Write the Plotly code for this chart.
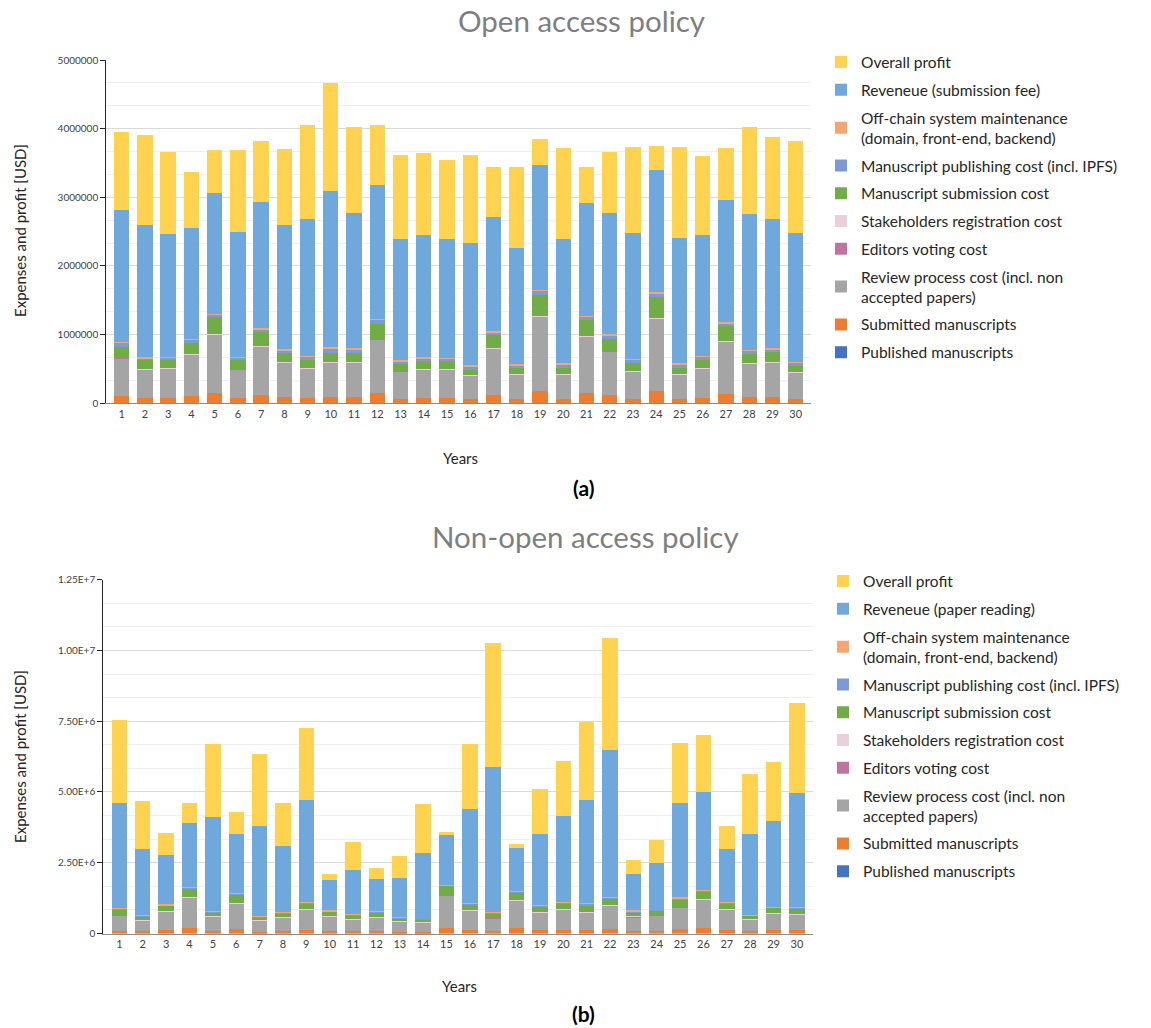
import plotly.graph_objects as go

# ---------------- data ----------------
years = [1, 2, 3, 4, 5, 6, 7, 8, 9, 10, 11, 12, 13, 14, 15,
         16, 17, 18, 19, 20, 21, 22, 23, 24, 25, 26, 27, 28, 29, 30]

series_names_a = [
    "Published manuscripts",
    "Submitted manuscripts",
    "Review process cost (incl. non<br>accepted papers)",
    "Editors voting cost",
    "Stakeholders registration cost",
    "Manuscript submission cost",
    "Manuscript publishing cost (incl. IPFS)",
    "Off-chain system maintenance<br>(domain, front-end, backend)",
    "Reveneue (submission fee)",
    "Overall profit",
]
series_names_b = [
    "Published manuscripts",
    "Submitted manuscripts",
    "Review process cost (incl. non<br>accepted papers)",
    "Editors voting cost",
    "Stakeholders registration cost",
    "Manuscript submission cost",
    "Manuscript publishing cost (incl. IPFS)",
    "Off-chain system maintenance<br>(domain, front-end, backend)",
    "Reveneue (paper reading)",
    "Overall profit",
]

# (a) Open access policy, USD
oa_published = [4000, 3000, 3000, 4000, 5000, 3000, 4000, 3000, 3000, 3000,
                3000, 5000, 2000, 3000, 3000, 2000, 4000, 2000, 6000, 2000,
                5000, 4000, 2000, 6000, 2000, 3000, 5000, 3000, 3000, 2000]
oa_submitted = [103000, 80000, 80000, 103000, 141000, 80000, 113000, 89000, 80000, 89000,
                89000, 141000, 66000, 80000, 80000, 56000, 113000, 66000, 178000, 66000,
                141000, 113000, 66000, 178000, 66000, 80000, 131000, 89000, 89000, 66000]
oa_review = [548000, 407000, 422000, 597000, 849000, 412000, 703000, 495000, 422000, 495000,
             495000, 786000, 388000, 407000, 407000, 345000, 679000, 345000, 1073000, 345000,
             820000, 640000, 398000, 1049000, 345000, 422000, 757000, 481000, 495000, 374000]
oa_editors = [6000, 5000, 5000, 6000, 7000, 5000, 6000, 5000, 5000, 5000,
              5000, 7000, 4000, 5000, 5000, 4000, 6000, 4000, 8000, 4000,
              7000, 6000, 4000, 8000, 4000, 5000, 6000, 5000, 5000, 4000]
oa_stakeholders = [4000, 3000, 3000, 4000, 4000, 3000, 4000, 3000, 3000, 3000,
                   3000, 4000, 3000, 3000, 3000, 3000, 4000, 3000, 5000, 3000,
                   4000, 4000, 3000, 5000, 3000, 3000, 4000, 3000, 3000, 3000]
oa_submission = [155000, 131000, 116000, 165000, 247000, 126000, 209000, 131000, 116000, 131000,
                 131000, 213000, 107000, 117000, 117000, 82000, 189000, 96000, 311000, 96000,
                 242000, 175000, 111000, 306000, 96000, 116000, 228000, 135000, 151000, 92000]
oa_publishing = [63000, 30000, 35000, 45000, 34000, 40000, 39000, 49000, 49000, 72000,
                 58000, 59000, 44000, 38000, 38000, 49000, 39000, 39000, 58000, 54000,
                 39000, 48000, 54000, 53000, 54000, 49000, 34000, 49000, 38000, 48000]
oa_offchain = [15000, 12000, 12000, 12000, 20000, 12000, 19000, 9000, 14000, 16000,
               19000, 14000, 14000, 15000, 12000, 10000, 15000, 15000, 14000, 10000,
               15000, 15000, 14000, 15000, 14000, 14000, 19000, 15000, 15000, 10000]
oa_revenue = [1912000, 1924000, 1788000, 1622000, 1752000, 1812000, 1835000, 1811000, 1986000, 2271000,
              1966000, 1952000, 1767000, 1777000, 1731000, 1781000, 1669000, 1699000, 1821000, 1815000,
              1645000, 1767000, 1826000, 1776000, 1826000, 1757000, 1782000, 1975000, 1888000, 1887000]
oa_profit = [1137000, 1320000, 1189000, 806000, 626000, 1189000, 884000, 1102000, 1369000, 1573000,
             1262000, 869000, 1228000, 1194000, 1141000, 1291000, 724000, 1170000, 374000, 1320000,
             525000, 883000, 1252000, 355000, 1320000, 1151000, 752000, 1267000, 1190000, 1335000]

# (b) Non-open access policy, USD
noa_published = [3000, 3000, 4000, 6000, 3000, 5000, 2000, 3000, 4000, 3000,
                 3000, 3000, 2000, 2000, 7000, 4000, 3000, 6000, 4000, 4000,
                 4000, 5000, 3000, 3000, 5000, 6000, 4000, 3000, 4000, 4000]
noa_submitted = [79000, 79000, 114000, 182000, 79000, 148000, 45000, 79000, 114000, 79000,
                 79000, 79000, 57000, 57000, 205000, 114000, 79000, 182000, 114000, 114000,
                 114000, 148000, 79000, 79000, 148000, 182000, 114000, 79000, 114000, 114000]
noa_review = [579000, 379000, 661000, 1086000, 520000, 921000, 414000, 497000, 732000, 532000,
              414000, 485000, 367000, 343000, 1156000, 696000, 473000, 980000, 638000, 732000,
              638000, 850000, 509000, 579000, 791000, 1015000, 732000, 414000, 590000, 555000]
noa_editors = [6000, 6000, 6000, 6000, 6000, 6000, 6000, 6000, 6000, 6000,
               6000, 6000, 6000, 6000, 6000, 6000, 6000, 6000, 6000, 6000,
               6000, 6000, 6000, 6000, 6000, 6000, 6000, 6000, 6000, 6000]
noa_stakeholders = [4000, 4000, 4000, 4000, 4000, 4000, 4000, 4000, 4000, 4000,
                    4000, 4000, 4000, 4000, 4000, 4000, 4000, 4000, 4000, 4000,
                    4000, 4000, 4000, 4000, 4000, 4000, 4000, 4000, 4000, 4000]
noa_submission = [177000, 141000, 200000, 330000, 130000, 294000, 118000, 141000, 212000, 153000,
                  142000, 165000, 118000, 94000, 318000, 224000, 153000, 294000, 200000, 212000,
                  212000, 224000, 165000, 153000, 247000, 283000, 212000, 130000, 201000, 212000]
noa_publishing = [49000, 28000, 28000, 27000, 39000, 45000, 27000, 28000, 37000, 28000,
                  27000, 35000, 27000, 20000, 27000, 28000, 40000, 18000, 27000, 27000,
                  82000, 37000, 35000, 18000, 59000, 27000, 27000, 27000, 27000, 28000]
noa_offchain = [10000, 8000, 8000, 8000, 8000, 14000, 8000, 8000, 10000, 8000,
                8000, 12000, 8000, 4000, 8000, 8000, 8000, 6000, 8000, 8000,
                24000, 10000, 23000, 6000, 24000, 8000, 8000, 8000, 8000, 8000]
noa_revenue = [3710000, 2332000, 1765000, 2238000, 3310000, 2061000, 3157000, 2320000, 3604000, 1072000,
               1555000, 1131000, 1366000, 2309000, 1732000, 3309000, 5100000, 1519000, 2521000, 3027000,
               3639000, 5194000, 1261000, 1649000, 3310000, 3475000, 1873000, 2827000, 3027000, 4039000]
noa_profit = [2921000, 1696000, 755000, 730000, 2603000, 801000, 2568000, 1531000, 2533000, 212000,
              978000, 412000, 789000, 1743000, 118000, 2309000, 4405000, 142000, 1566000, 1944000,
              2756000, 3946000, 495000, 801000, 2143000, 2014000, 801000, 2144000, 2073000, 3181000]

y_ticks_a = [0, 1000000, 2000000, 3000000, 4000000, 5000000]
y_ticklabels_a = ["0", "1000000", "2000000", "3000000", "4000000", "5000000"]
y_ticks_b = [0, 2500000, 5000000, 7500000, 10000000, 12500000]
y_ticklabels_b = ["0", "2.50E+6", "5.00E+6", "7.50E+6", "1.00E+7", "1.25E+7"]

# ---------------- styling ----------------
colors = ["#4472C4", "#ED7D31", "#A5A5A5", "#C0739F", "#EBD0DC",
          "#70AD47", "#7C9BD6", "#F4A672", "#6FA8DC", "#FFD34F"]

W, H = 1151, 1028
FONT = "Lato"


def fx(px):
    return px / W


def fy(py):
    return 1 - py / H


fig = go.Figure()

stack_a = [oa_published, oa_submitted, oa_review, oa_editors, oa_stakeholders,
           oa_submission, oa_publishing, oa_offchain, oa_revenue, oa_profit]
stack_b = [noa_published, noa_submitted, noa_review, noa_editors, noa_stakeholders,
           noa_submission, noa_publishing, noa_offchain, noa_revenue, noa_profit]

n_series = len(stack_a)
for i, (name, vals) in enumerate(zip(series_names_a, stack_a)):
    fig.add_trace(go.Bar(
        x=years, y=vals, name=name, marker=dict(color=colors[i], line=dict(width=0)),
        width=0.66, xaxis="x", yaxis="y", legend="legend", legendgroup=f"a{i}",
        legendrank=n_series - i,
    ))

for i, (name, vals) in enumerate(zip(series_names_b, stack_b)):
    fig.add_trace(go.Bar(
        x=years, y=vals, name=name, marker=dict(color=colors[i], line=dict(width=0)),
        width=0.66, xaxis="x2", yaxis="y2", legend="legend2", legendgroup=f"b{i}",
        legendrank=n_series - i,
    ))

tick_font = dict(family=FONT, size=10, color="#404040")
xtick_font = dict(family=FONT, size=11, color="#404040")

common_x = dict(
    tickmode="array", tickvals=years, ticktext=[str(v) for v in years],
    showgrid=False, zeroline=False, showline=True, linecolor="#8C8C8C", linewidth=1.2,
    ticks="", tickfont=xtick_font, fixedrange=True, automargin=False,
)
common_y = dict(
    showline=True, linecolor="#262626", linewidth=1.2, ticks="outside", ticklen=5,
    tickcolor="#262626", tickfont=tick_font, zeroline=False, automargin=False,
    showgrid=True, gridcolor="#D9D9D9", gridwidth=1,
)

legend_common = dict(
    font=dict(family=FONT, size=15.5, color="#262626"),
    traceorder="grouped", tracegroupgap=4.6, itemwidth=30,
    xanchor="left", yanchor="top", bgcolor="rgba(0,0,0,0)",
)

fig.update_layout(
    width=W, height=H, margin=dict(l=0, r=0, t=0, b=0, autoexpand=False),
    paper_bgcolor="white", plot_bgcolor="white",
    barmode="stack", bargap=0.34,
    font=dict(family=FONT, color="#404040"),
    xaxis=dict(domain=[fx(106.3), fx(811)], range=[0.34, 30.66], anchor="y", **common_x),
    yaxis=dict(domain=[fy(403.3), fy(60)], range=[0, 5000000], anchor="x",
               tickmode="array", tickvals=y_ticks_a, ticktext=y_ticklabels_a,
               minor=dict(dtick=1000000 / 3, tick0=0, showgrid=True, gridcolor="#EFEFEF",
                          gridwidth=1, ticks=""),
               **common_y),
    xaxis2=dict(domain=[fx(103.3), fx(813)], range=[0.31, 30.69], anchor="y2", **common_x),
    yaxis2=dict(domain=[fy(933.5), fy(579.7)], range=[0, 12500000], anchor="x2",
                tickmode="array", tickvals=y_ticks_b, ticktext=y_ticklabels_b,
                minor=dict(dtick=2500000 / 3, tick0=0, showgrid=True, gridcolor="#EFEFEF",
                           gridwidth=1, ticks=""),
                **common_y),
    legend=dict(x=fx(821), y=fy(45.5), **legend_common),
    legend2=dict(x=fx(823), y=fy(564.5), **legend_common),
    showlegend=True,
)

annotations = [
    dict(text="Open access policy", x=fx(581), y=fy(20.5),
         font=dict(family=FONT, size=29.5, color="#7F7F7F")),
    dict(text="Non-open access policy", x=fx(585), y=fy(536.5),
         font=dict(family=FONT, size=29.5, color="#7F7F7F")),
    dict(text="Years", x=fx(460), y=fy(458), font=dict(family=FONT, size=15, color="#262626")),
    dict(text="Years", x=fx(459), y=fy(986), font=dict(family=FONT, size=15, color="#262626")),
    dict(text="<b>(a)</b>", x=fx(583), y=fy(487), font=dict(family=FONT, size=21, color="#000000")),
    dict(text="<b>(b)</b>", x=fx(583), y=fy(1013), font=dict(family=FONT, size=21, color="#000000")),
    dict(text="Expenses and profit [USD]", x=fx(20), y=fy(231), textangle=-90,
         font=dict(family=FONT, size=15, color="#262626")),
    dict(text="Expenses and profit [USD]", x=fx(20), y=fy(757), textangle=-90,
         font=dict(family=FONT, size=15, color="#262626")),
]
for a in annotations:
    a.update(xref="paper", yref="paper", showarrow=False, xanchor="center", yanchor="middle")
fig.update_layout(annotations=annotations)

fig.write_html("out.html")
